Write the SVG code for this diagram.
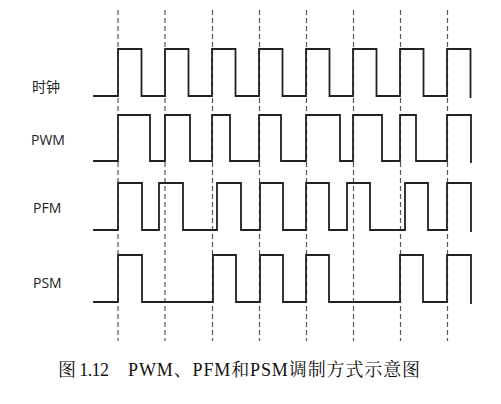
<svg xmlns="http://www.w3.org/2000/svg" width="501" height="404" viewBox="0 0 501 404">
<style>
.wave{fill:none;stroke:#222;stroke-width:1.8;stroke-linejoin:miter;stroke-linecap:square}
.dash{stroke:#555;stroke-width:1.2;stroke-dasharray:5 3}
.lbl{font-family:"Open Sans","Noto Sans","Noto Sans CJK SC",sans-serif;font-size:14px;fill:#222}
.cap{font-family:"Liberation Serif","Noto Serif CJK SC","Noto Sans CJK SC",serif;font-size:18px;fill:#111}
</style>
<rect width="501" height="404" fill="#fff"/>
<g id="connectors">
<line class="dash" x1="118" y1="10" x2="118" y2="341"/>
<line class="dash" x1="165" y1="10" x2="165" y2="341"/>
<line class="dash" x1="212.5" y1="10" x2="212.5" y2="341"/>
<line class="dash" x1="259.5" y1="10" x2="259.5" y2="341"/>
<line class="dash" x1="306.5" y1="10" x2="306.5" y2="341"/>
<line class="dash" x1="353.5" y1="10" x2="353.5" y2="341"/>
<line class="dash" x1="400.5" y1="10" x2="400.5" y2="341"/>
<line class="dash" x1="447.5" y1="10" x2="447.5" y2="341"/>
</g>
<g id="clock">
<text class="lbl" x="32" y="92" font-size="15">时钟</text>
<path class="wave" d="M94,96 H118 V49 H141.5 V96 H165 V49 H188.5 V96 H212 V49 H235.5 V96 H259 V49 H282.5 V96 H306 V49 H329.5 V96 H353 V49 H376.5 V96 H400 V49 H423.5 V96 H447 V49 H470.5 V97"/>
</g>
<g id="pwm">
<text class="lbl" x="31" y="145">PWM</text>
<path class="wave" d="M94,161 H118 V115 H150 V161 H165 V115 H190 V161 H212 V115 H230 V161 H259 V115 H281 V161 H306 V115 H340 V161 H353 V115 H382 V161 H400 V115 H416 V161 H447 V115 H471 V162"/>
</g>
<g id="pfm">
<text class="lbl" x="33" y="213">PFM</text>
<path class="wave" d="M94,230 H118 V183 H142 V230 H159 V183 H183 V230 H217 V183 H241 V230 H260 V183 H283 V230 H306 V183 H329 V230 H347 V183 H370 V230 H405 V183 H428 V230 H447 V183 H471 V231"/>
</g>
<g id="psm">
<text class="lbl" x="33" y="288">PSM</text>
<path class="wave" d="M94,302 H118 V255 H142 V302 H213 V255 H236 V302 H260 V255 H283 V302 H306 V255 H329 V302 H400 V255 H423 V302 H447 V255 H471 V303"/>
</g>
<g id="caption">
<text class="cap" x="58" y="376" textLength="51" lengthAdjust="spacing">图 1.12</text>
<text class="cap" x="128" y="376" textLength="292" lengthAdjust="spacing">PWM、PFM和PSM调制方式示意图</text>
</g>
</svg>
